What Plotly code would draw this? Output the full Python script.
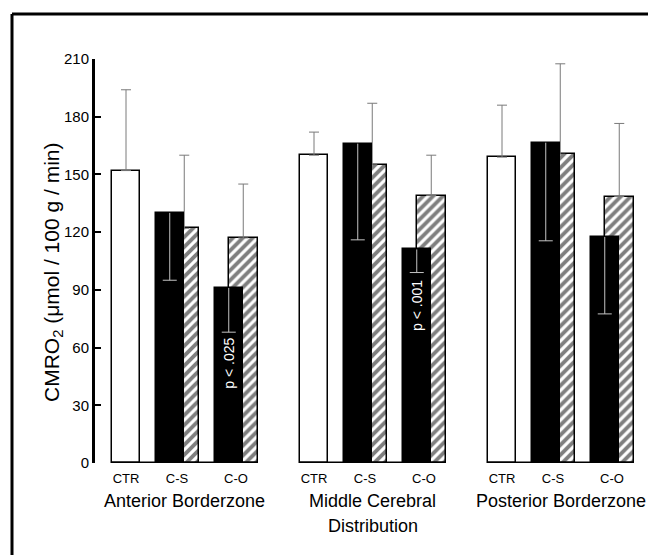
import plotly.graph_objects as go

# ---------------- data ----------------
groups = ["Anterior Borderzone", "Middle Cerebral<br>Distribution", "Posterior Borderzone"]
cond_labels = ["CTR", "C-S", "C-O"]

ctr_mean = [152, 160, 159]
ctr_sd = [42, 12, 27]

cs_black_mean = [130, 166, 166.5]
cs_black_sd = [35, 50, 51]
cs_hatch_mean = [122, 155, 160.5]
cs_hatch_sd = [38, 32, 47]

co_black_mean = [91, 111, 117.5]
co_black_sd = [23, 12, 40]
co_hatch_mean = [117, 139, 138.5]
co_hatch_sd = [28, 21, 38]

p_labels = ["p < .025", "p < .001", ""]
p_label_y = [52, 82, 0]

y_ticks = [0, 30, 60, 90, 120, 150, 180, 210]

# ---------------- layout constants ----------------
OFF = 8                       # page body margin
W, H = 656 - OFF, 555 - OFF
ML, MT = 95 - OFF, 59 - OFF   # plot area left/top (screen 95 / 59)
PW, PH = 551, 404
MR = W - ML - PW
MB = H - MT - PH
GAP = 188            # group spacing (x units)
CTR_OFF = -58.5      # CTR bar centre relative to group centre
PAIR_OFF = [-7.5, 51.5]   # C-S / C-O pair centres
HALF = 7.25          # black bar at pair-HALF, hatched at pair+HALF
BW = 28
HW = 29
X0 = -89.5

FONT = "Liberation Sans, Arial, Helvetica, sans-serif"


def px_x(px):
    """screen pixel x -> paper"""
    return (px - OFF - ML) / PW


def px_y(py):
    """screen pixel y -> paper"""
    return (MT + PH - (py - OFF)) / PH


gc = [i * GAP for i in range(len(groups))]
x_ctr = [c + CTR_OFF for c in gc]
x_cs_b = [c + PAIR_OFF[0] - HALF for c in gc]
x_cs_h = [c + PAIR_OFF[0] + HALF for c in gc]
x_co_b = [c + PAIR_OFF[1] - HALF for c in gc]
x_co_h = [c + PAIR_OFF[1] + HALF for c in gc]

zeros = [0] * len(groups)
up_col = "#7a7a7a"
down_col = "#c4c4c4"

fig = go.Figure()


def hatch_bar(x, y, sd):
    return go.Bar(
        x=x, y=y, width=HW,
        marker=dict(color="white",
                    line=dict(color="black", width=1.5),
                    pattern=dict(shape="/", fgcolor="black", bgcolor="white",
                                 size=7, solidity=0.55)),
        error_y=dict(type="data", symmetric=False, array=sd, arrayminus=zeros,
                     color=up_col, thickness=1, width=5),
        showlegend=False, hoverinfo="skip")


def black_bar(x, y):
    return go.Bar(
        x=x, y=y, width=BW,
        marker=dict(color="black", line=dict(color="black", width=1.5)),
        showlegend=False, hoverinfo="skip")


def down_error(x, y, sd):
    # stem from the bar top downwards, with a cap only at the lower end
    low = [m - s for m, s in zip(y, sd)]
    return go.Scatter(
        x=x, y=low, mode="markers",
        marker=dict(symbol="line-ew-open", size=10, color=down_col,
                    line=dict(color=down_col, width=1)),
        error_y=dict(type="data", symmetric=False, array=sd, arrayminus=zeros,
                     color=down_col, thickness=1, width=0),
        showlegend=False, hoverinfo="skip")


# CTR (white)
fig.add_trace(go.Bar(
    x=x_ctr, y=ctr_mean, width=BW,
    marker=dict(color="white", line=dict(color="black", width=1.5)),
    error_y=dict(type="data", symmetric=False, array=ctr_sd, arrayminus=zeros,
                 color=up_col, thickness=1, width=5),
    showlegend=False, hoverinfo="skip"))

# hatched behind, black in front
fig.add_trace(hatch_bar(x_cs_h, cs_hatch_mean, cs_hatch_sd))
fig.add_trace(black_bar(x_cs_b, cs_black_mean))
fig.add_trace(hatch_bar(x_co_h, co_hatch_mean, co_hatch_sd))
fig.add_trace(black_bar(x_co_b, co_black_mean))
fig.add_trace(down_error(x_cs_b, cs_black_mean, cs_black_sd))
fig.add_trace(down_error(x_co_b, co_black_mean, co_black_sd))

# tick positions for condition labels
tickvals, ticktext = [], []
for c in gc:
    tickvals += [c + CTR_OFF, c + PAIR_OFF[0], c + PAIR_OFF[1]]
    ticktext += cond_labels

shapes = []
# per-group baselines
for c in gc:
    shapes.append(dict(type="line", xref="x", yref="y",
                       x0=c + CTR_OFF - BW / 2, x1=c + PAIR_OFF[1] + HALF + HW / 2,
                       y0=0, y1=0, line=dict(color="black", width=3), layer="above"))
# outer frame (left & top edges visible)
shapes.append(dict(type="line", xref="paper", yref="paper",
                   x0=px_x(12), x1=px_x(12), y0=px_y(570), y1=px_y(14),
                   line=dict(color="black", width=3)))
shapes.append(dict(type="line", xref="paper", yref="paper",
                   x0=px_x(12), x1=px_x(670), y0=px_y(14), y1=px_y(14),
                   line=dict(color="black", width=3)))

annotations = []
# group labels
for c, g in zip(gc, groups):
    lines = g.split("<br>")
    for k, ln in enumerate(lines):
        annotations.append(dict(text=ln, xref="x", yref="paper", x=c,
                                y=px_y(501 + 25 * k), yanchor="middle",
                                showarrow=False,
                                font=dict(family=FONT, size=18, color="black")))
# p-value labels
for xb, t, yv in zip(x_co_b, p_labels, p_label_y):
    if t:
        annotations.append(dict(text=t, xref="x", yref="y", x=xb, y=yv,
                                textangle=-90, showarrow=False,
                                font=dict(family=FONT, size=14, color="white")))
# y-axis title
annotations.append(dict(text="CMRO<sub>2</sub> (μmol / 100 g / min)",
                        xref="paper", yref="paper", x=px_x(38), y=px_y(272),
                        textangle=-90, showarrow=False,
                        font=dict(family=FONT, size=21, color="black")))

fig.update_layout(
    width=W, height=H,
    margin=dict(l=ML, r=MR, t=MT, b=MB, pad=0),
    paper_bgcolor="white", plot_bgcolor="white",
    barmode="overlay", bargap=0,
    showlegend=False,
    font=dict(family=FONT, color="black"),
    xaxis=dict(range=[X0, X0 + PW], showline=False, zeroline=False,
               showgrid=False, ticks="", tickvals=tickvals, ticktext=ticktext,
               ticklabelstandoff=6,
               tickfont=dict(size=13, family=FONT, color="black")),
    yaxis=dict(range=[0, 210], tickvals=y_ticks, showline=True, linewidth=3,
               linecolor="black", ticks="inside", ticklen=6, tickwidth=1.5,
               tickcolor="black", showgrid=False, zeroline=False,
               tickfont=dict(size=15, family=FONT, color="black")),
    shapes=shapes, annotations=annotations,
)

fig.write_html("out.html")
